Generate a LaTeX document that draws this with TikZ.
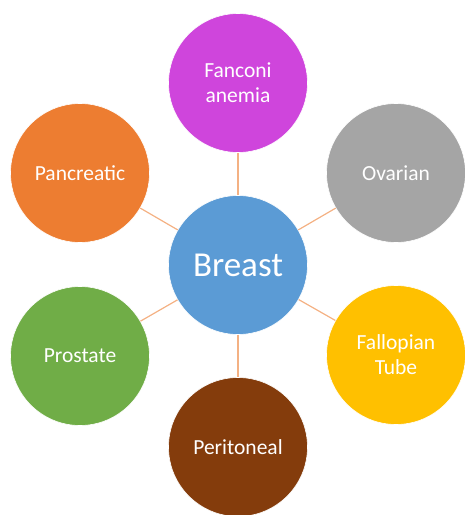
\documentclass[tikz,border=0pt]{standalone}
\usepackage{fontspec}
\setmainfont{Carlito}
\usepackage{tikz}
\usetikzlibrary{positioning}
\definecolor{breastBlue}{HTML}{5B9BD5}
\definecolor{fanconiPurple}{HTML}{CF45DC}
\definecolor{ovarianGray}{HTML}{A5A5A5}
\definecolor{tubeYellow}{HTML}{FFC000}
\definecolor{peritonealBrown}{HTML}{843C0C}
\definecolor{prostateGreen}{HTML}{70AD47}
\definecolor{pancreaticOrange}{HTML}{ED7D31}
\definecolor{linkOrange}{HTML}{F4B183}

\begin{document}
\begin{tikzpicture}[
        x=1pt, y=-1pt,
        hub/.style={circle, draw=white, line width=0.6pt, fill=breastBlue, minimum size=139pt, inner sep=0pt, align=center, text=white, font=\fontsize{35}{40}\selectfont},
        spoke/.style={circle, draw=white, line width=0.6pt, minimum size=139pt, inner sep=0pt, align=center, text=white, font=\fontsize{21.5}{25}\selectfont},
        link/.style={draw=linkOrange, line width=1.2pt}
    ]
        \useasboundingbox (0,0) rectangle (465,515);

        % --- centre ---
        \node[hub] (breast) at (238,265) {Breast};

        % --- surrounding circles ---
        \node[spoke, fill=fanconiPurple] (fanconi) at (238,83) {Fanconi\\anemia};
        \node[spoke, fill=ovarianGray] (ovarian) at (396,173) {Ovarian};
        \node[spoke, fill=tubeYellow] (tube) at (396,355) {Fallopian\\Tube};
        \node[spoke, fill=peritonealBrown] (peritoneal) at (238,447) {Peritoneal};
        \node[spoke, fill=prostateGreen] (prostate) at (80,356) {Prostate};
        \node[spoke, fill=pancreaticOrange] (pancreatic) at (80,173) {Pancreatic};

        % --- links ---
        \foreach \n in {fanconi,ovarian,tube,peritoneal,prostate,pancreatic}
            \draw[link] (breast) -- (\n);
    \end{tikzpicture}
\end{document}
